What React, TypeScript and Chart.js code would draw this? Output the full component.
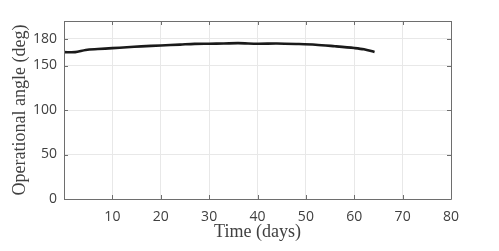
import React, { useEffect, useRef } from "react";
import { Chart, registerables } from "chart.js";

Chart.register(...registerables);

const days = [0, 2.3, 4.5, 7, 10, 13, 16, 20, 24, 27, 30, 33, 36, 40, 44, 48, 52, 56, 60, 62, 64.2];
const angle = [165, 165, 167.5, 168.5, 169.5, 170.5, 171.5, 172.5, 173.5, 174.3, 174.5, 174.7, 175.1, 174.5, 174.7, 174.2, 173.4, 171.6, 169.6, 168.2, 165.2];
const xTicks = [0, 10, 20, 30, 40, 50, 60, 70, 80];
const yTicks = [0, 50, 100, 150, 180];
const xTitle = "Time (days)";
const yTitle = "Operational angle (deg)";

const boxPlugin = {
  id: "box",
  afterDatasetsDraw(chart: any) {
    const { ctx, chartArea } = chart;
    const { left, right, top, bottom } = chartArea;
    const xs = chart.scales.x;
    const ys = chart.scales.y;
    ctx.save();
    ctx.strokeStyle = "#6e6e6e";
    ctx.lineWidth = 1;
    ctx.beginPath();
    ctx.rect(Math.round(left) + 0.5, Math.round(top) + 0.5, Math.round(right - left), Math.round(bottom - top));
    ctx.stroke();
    const tl = 4;
    ctx.beginPath();
    for (const v of xTicks) {
      const px = Math.round(xs.getPixelForValue(v)) + 0.5;
      ctx.moveTo(px, bottom);
      ctx.lineTo(px, bottom - tl);
      ctx.moveTo(px, top);
      ctx.lineTo(px, top + tl);
    }
    for (const v of yTicks) {
      const py = Math.round(ys.getPixelForValue(v)) + 0.5;
      ctx.moveTo(left, py);
      ctx.lineTo(left + tl, py);
      ctx.moveTo(right, py);
      ctx.lineTo(right - tl, py);
    }
    ctx.stroke();
    ctx.restore();
  },
};

export default function App() {
  const ref = useRef<HTMLCanvasElement>(null);
  useEffect(() => {
    if (!ref.current) return;
    const chart = new Chart(ref.current, {
      type: "line",
      data: {
        datasets: [
          {
            data: days.map((d, i) => ({ x: d, y: angle[i] })),
            borderColor: "#1a1a1a",
            borderWidth: 2.6,
            pointRadius: 0,
            tension: 0.3,
            fill: false,
          },
        ],
      },
      options: {
        animation: false,
        responsive: false,
        devicePixelRatio: 1,
        layout: { padding: { left: 0, right: 48, top: 21, bottom: 0 } },
        plugins: { legend: { display: false }, tooltip: { enabled: false } },
        scales: {
          x: {
            type: "linear",
            min: 0,
            max: 80,
            afterBuildTicks: (s: any) => {
              s.ticks = xTicks.map((v) => ({ value: v }));
            },
            afterFit: (s: any) => {
              s.height = 52;
            },
            grid: { color: "#e8e8e8", drawTicks: false },
            border: { display: false },
            ticks: {
              padding: 10,
              maxRotation: 0,
              color: "#404040",
              font: { family: "'Open Sans'", size: 14 },
              callback: (v: any) => (v === 0 ? "" : String(v)),
            },
            title: {
              display: true,
              text: xTitle,
              color: "#404040",
              font: { family: "'Liberation Serif'", size: 18 },
              padding: 8,
            },
          },
          y: {
            type: "linear",
            min: 0,
            max: 200,
            afterBuildTicks: (s: any) => {
              s.ticks = yTicks.map((v) => ({ value: v }));
            },
            afterFit: (s: any) => {
              s.width = 64;
            },
            grid: { color: "#e8e8e8", drawTicks: false },
            border: { display: false },
            ticks: {
              padding: 7,
              color: "#404040",
              font: { family: "'Open Sans'", size: 14 },
              callback: (v: any) => String(v),
            },
            title: {
              display: true,
              text: yTitle,
              color: "#404040",
              font: { family: "'Liberation Serif'", size: 18 },
              padding: 9,
            },
          },
        },
      },
      plugins: [boxPlugin],
    } as any);
    return () => chart.destroy();
  }, []);
  return (
    <div style={{ position: "absolute", left: 0, top: 0, width: 499, height: 251, background: "#fff" }}>
      <canvas ref={ref} width={499} height={251} style={{ display: "block" }} />
    </div>
  );
}
